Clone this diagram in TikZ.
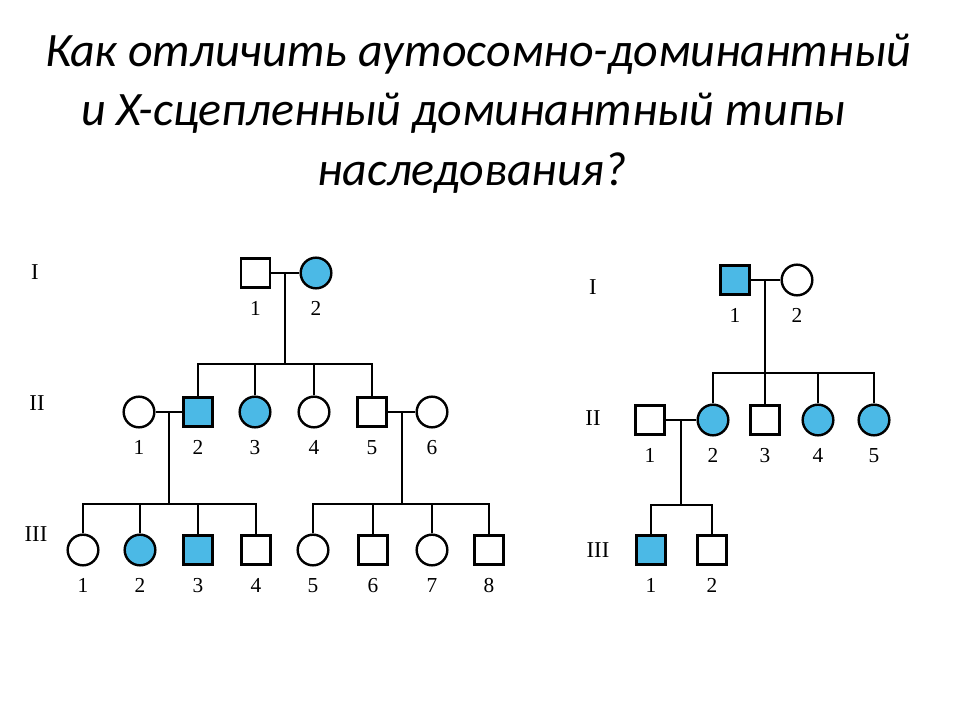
\documentclass[tikz,border=0pt]{standalone}
\usepackage{fontspec}
\setmainfont{Carlito}
\newfontfamily\numfont{Liberation Serif}
\usepackage{tikz}

\definecolor{sick}{RGB}{75,185,230}

\tikzset{
	person/.style={draw, line width=1.8pt, inner sep=0pt},
	male/.style={person, rectangle, minimum size=22pt, label={[yshift=-0.5pt]below:#1}},
	female/.style={person, circle, minimum size=23pt, label=below:#1},
	ill/.style={fill=sick},
	every label/.style={font=\numfont\fontsize{16pt}{16pt}\selectfont, inner sep=0pt, text height=10.8pt, text depth=0pt},
	gen/.style={font=\numfont\fontsize{17pt}{17pt}\selectfont, inner sep=0pt},
	title/.style={font=\fontsize{36pt}{43pt}\selectfont\itshape, anchor=base, inner sep=0pt}
}

\begin{document}
\begin{tikzpicture}[x=0.75pt, y=-0.75pt, line width=1.8pt, label distance=7.5pt]
		\useasboundingbox (0,0) rectangle (960,720);
		% title
		\node [title] (title1) at (478,67) {Как отличить аутосомно-доминантный};
		\node [title] (title2) at (463,126) {и X-сцепленный доминантный типы};
		\node [title] (title3) at (472,186) {наследования?};

		% autosomal dominant pedigree
		\node [gen] (agI) at (35,272) {I};
		\node [gen] (agII) at (37,403) {II};
		\node [gen] (agIII) at (36,534) {III};

		\node [male=1] (AI1) at (255.5,273) {};
		\node [female=2, ill] (AI2) at (316,273) {};

		\node [female=1] (AII1) at (139,412) {};
		\node [male=2, ill] (AII2) at (198,412) {};
		\node [female=3, ill] (AII3) at (255,412) {};
		\node [female=4] (AII4) at (314,412) {};
		\node [male=5] (AII5) at (372,412) {};
		\node [female=6] (AII6) at (432,412) {};

		\node [female=1] (AIII1) at (83,550) {};
		\node [female=2, ill] (AIII2) at (140,550) {};
		\node [male=3, ill] (AIII3) at (198,550) {};
		\node [male=4] (AIII4) at (256,550) {};
		\node [female=5] (AIII5) at (313,550) {};
		\node [male=6] (AIII6) at (373,550) {};
		\node [female=7] (AIII7) at (432,550) {};
		\node [male=8] (AIII8) at (489,550) {};

		\coordinate (am1) at (285,273);
		\coordinate (as1) at (285,364);
		\coordinate (am2) at (169,412);
		\coordinate (as2) at (169,504);
		\coordinate (am3) at (402,412);
		\coordinate (as3) at (402,504);

		\draw (AI1) -- (AI2) (am1) -- (as1);
		\draw (AII2) |- (as1) -| (AII5);
		\draw (AII3) -- (AII3 |- as1) (AII4) -- (AII4 |- as1);
		\draw (AII1) -- (AII2) (am2) -- (as2);
		\draw (AII5) -- (AII6) (am3) -- (as3);
		\draw (AIII1) |- (as2) -| (AIII4);
		\draw (AIII2) -- (AIII2 |- as2) (AIII3) -- (AIII3 |- as2);
		\draw (AIII5) |- (as3) -| (AIII8);
		\draw (AIII6) -- (AIII6 |- as3) (AIII7) -- (AIII7 |- as3);

		% X-linked dominant pedigree
		\node [gen] (bgI) at (593,287) {I};
		\node [gen] (bgII) at (593,418) {II};
		\node [gen] (bgIII) at (598,550) {III};

		\node [male=1, ill] (BI1) at (735,280) {};
		\node [female=2] (BI2) at (797,280) {};

		\node [male=1] (BII1) at (650,420) {};
		\node [female=2, ill] (BII2) at (713,420) {};
		\node [male=3] (BII3) at (765,420) {};
		\node [female=4, ill] (BII4) at (818,420) {};
		\node [female=5, ill] (BII5) at (874,420) {};

		\node [male=1, ill] (BIII1) at (651,550) {};
		\node [male=2] (BIII2) at (712,550) {};

		\coordinate (bm1) at (765,280);
		\coordinate (bs1) at (765,373);
		\coordinate (bm2) at (681,420);
		\coordinate (bs2) at (681,505);

		\draw (BI1) -- (BI2) (bm1) -- (bs1);
		\draw (BII2) |- (bs1) -| (BII5);
		\draw (BII3) -- (BII3 |- bs1) (BII4) -- (BII4 |- bs1);
		\draw (BII1) -- (BII2) (bm2) -- (bs2);
		\draw (BIII1) |- (bs2) -| (BIII2);
	\end{tikzpicture}
\end{document}
